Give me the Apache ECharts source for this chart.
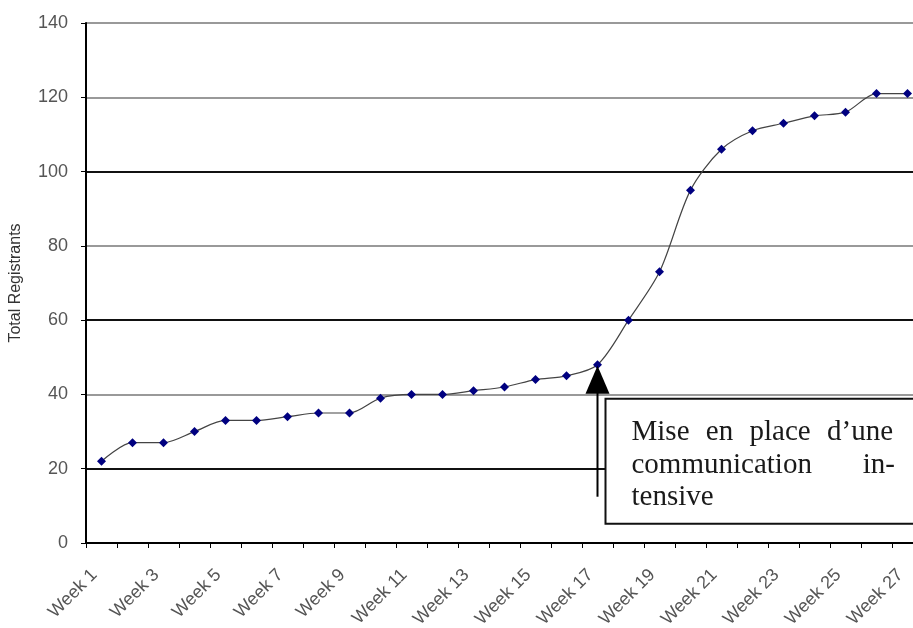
<!DOCTYPE html>
<html>
<head>
<meta charset="utf-8">
<script src="https://cdn.jsdelivr.net/npm/echarts@6/dist/echarts.min.js"></script>
<style>
html,body{margin:0;padding:0;background:#fff;}
#chart{width:913px;height:628px;}
</style>
</head>
<body>
<div id="chart"></div>
<script>
var weeks = ['Week 1','Week 2','Week 3','Week 4','Week 5','Week 6','Week 7','Week 8','Week 9','Week 10',
  'Week 11','Week 12','Week 13','Week 14','Week 15','Week 16','Week 17','Week 18','Week 19','Week 20',
  'Week 21','Week 22','Week 23','Week 24','Week 25','Week 26','Week 27'];
var registrants = [22,27,27,30,33,33,34,35,35,39,40,40,41,42,44,45,48,60,73,95,106,111,113,115,116,121,121];
var yMin = 0, yMax = 140, yStep = 20;
var yAxisTitle = 'Total Registrants';
var annotationWeek = 'Week 17';
var annotationLine1 = ['Mise', 'en', 'place', 'd\u2019une'];
var annotationLine2 = ['communication', 'in-'];
var annotationLine3 = ['tensive'];

var chart = echarts.init(document.getElementById('chart'), null, {renderer:'canvas'});
var labelFont = '"Liberation Sans", Arial, sans-serif';
var G = '#999999', D = '#111111';
var option = {
  backgroundColor: '#ffffff',
  animation: false,
  grid: {left: 86, right: -10, top: 23, bottom: 85, containLabel: false, outerBoundsMode: 'none'},
  xAxis: {
    type: 'category',
    data: weeks,
    boundaryGap: true,
    axisLine: {show: true, lineStyle: {color: '#000', width: 2}},
    axisTick: {show: true, interval: 0, length: 5, alignWithLabel: false, lineStyle: {color: '#000', width: 1}},
    axisLabel: {interval: 1, rotate: 45, margin: 22, padding: [0, 10, 0, 0], color: '#555', fontSize: 18, fontFamily: labelFont, hideOverlap: false},
    splitLine: {show: false}
  },
  yAxis: {
    type: 'value',
    min: yMin, max: yMax, interval: yStep,
    name: yAxisTitle,
    nameLocation: 'middle',
    nameGap: 62,
    nameRotate: 90,
    nameMoveOverlap: false,
    nameTextStyle: {color: '#333', fontSize: 16, fontFamily: labelFont},
    axisLine: {show: true, lineStyle: {color: '#000', width: 2}},
    axisTick: {show: true, length: 5, lineStyle: {color: '#000', width: 1}},
    axisLabel: {margin: 18, color: '#555', fontSize: 18, fontFamily: labelFont},
    splitLine: {show: true, lineStyle: {color: [G, D, G, D, G, D, G, G], width: 2}}
  },
  series: [{
    type: 'line',
    data: registrants,
    smooth: 0.3,
    symbol: 'diamond',
    symbolSize: 9,
    showSymbol: true,
    lineStyle: {color: '#444', width: 1.2},
    itemStyle: {color: '#000080', borderWidth: 0},
    z: 3
  }]
};
chart.setOption(option);

var idx = weeks.indexOf(annotationWeek);
var tip = chart.convertToPixel({xAxisIndex: 0, yAxisIndex: 0}, [idx, registrants[idx]]);
var tx = tip[0], ty = tip[1];
var boxX = tx + 8, boxY = ty + 34, boxW = 340, boxH = 125;
var textX = boxX + 26, textR = 893;
var serif = '"Liberation Serif", "Times New Roman", serif';
var textFont = '29px ' + serif;
var mctx = document.createElement('canvas').getContext('2d');
mctx.font = textFont;
function txt(x, y, s, align) {
  return {type: 'text', x: x, y: y, z: 20,
    style: {text: s, fill: '#1a1a1a', font: textFont, textAlign: align, textVerticalAlign: 'middle'}};
}
function justify(words, y, left, right) {
  var widths = words.map(function (w) { return mctx.measureText(w).width; });
  var total = widths.reduce(function (a, b) { return a + b; }, 0);
  var gap = words.length > 1 ? (right - left - total) / (words.length - 1) : 0;
  var out = [], x = left;
  for (var i = 0; i < words.length; i++) {
    out.push(txt(x, y, words[i], 'left'));
    x += widths[i] + gap;
  }
  return out;
}
var graphics = [
  {type: 'polygon', z: 15, shape: {points: [[tx, ty + 1], [tx - 12, ty + 29], [tx + 12, ty + 29]]}, style: {fill: '#000'}},
  {type: 'line', z: 15, shape: {x1: tx, y1: ty + 28, x2: tx, y2: ty + 132}, style: {stroke: '#000', lineWidth: 2}},
  {type: 'rect', z: 16, shape: {x: boxX, y: boxY, width: boxW, height: boxH}, style: {fill: '#fff', stroke: '#111', lineWidth: 2}}
];
graphics = graphics.concat(justify(annotationLine1, boxY + 34, textX, textR));
graphics = graphics.concat(justify(annotationLine2, boxY + 67, textX, textR + 2));
graphics.push(txt(textX, boxY + 99, annotationLine3[0], 'left'));
chart.setOption({graphic: graphics});
</script>
</body>
</html>
